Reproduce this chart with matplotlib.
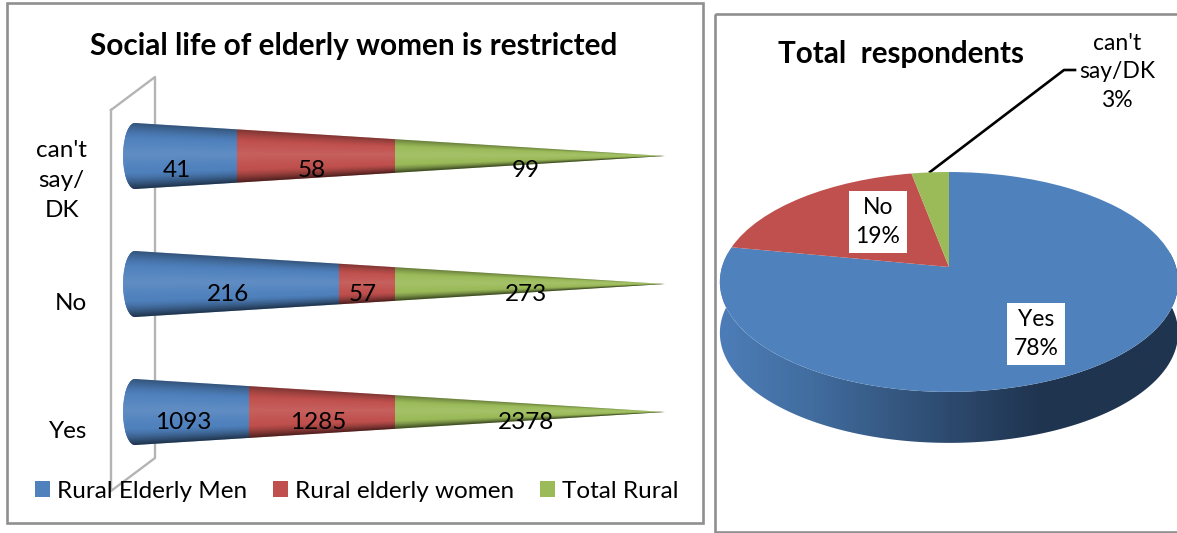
import numpy as np
import matplotlib
matplotlib.use("Agg")
import matplotlib.pyplot as plt
from matplotlib.colors import LinearSegmentedColormap
from matplotlib.patches import Ellipse, Rectangle
from matplotlib.path import Path
from matplotlib.transforms import Transform

plt.rcParams['font.family'] = ['Lato', 'DejaVu Sans']

# datos de las barras
categories = ["Yes", "No", "can't\nsay/\nDK"]
men = [1093, 216, 41]
women = [1285, 57, 58]
total_rural = [2378, 273, 99]
series_names = ["Rural Elderly Men", "Rural elderly women", "Total Rural"]
series_colors = ["#4f81bd", "#c0504d", "#9bbb59"]

# datos del pastel
pie_names = ["Yes", "No", "can't\nsay/DK"]
pie_pct = [78, 19, 3]

W, H = 1177, 533
FRAME = "#8f8f8f"
WALL = "#b4b4b4"
TXT = 17.5


def rect_px(x0, y0, x1, y1):
    return [x0 / W, 1 - y1 / H, (x1 - x0) / W, (y1 - y0) / H]


fig = plt.figure(figsize=(W / 100, H / 100), dpi=100, facecolor="white")

# fondo con los marcos, en pixeles
bg = fig.add_axes([0, 0, 1, 1])
bg.set_xlim(0, W)
bg.set_ylim(H, 0)
bg.axis("off")
bg.add_patch(Rectangle((7, 3), 696, 520, fill=False, ec=FRAME, lw=1.9))
bg.add_patch(Rectangle((715, 14), 480, 518, fill=False, ec=FRAME, lw=1.9))
bg.plot([111, 155, 155, 111, 111], [110, 77, 458, 491, 110], color=WALL, lw=1.7)
bg.text(354, 46, "Social life of elderly women is restricted", fontsize=21.4,
        fontweight="bold", ha="center", va="center")
bg.text(901, 54, "Total  respondents", fontsize=21.3, fontweight="bold",
        ha="center", va="center")

# conos apilados
ax = fig.add_axes(rect_px(108.8, 100, 675.8, 470))
ax.patch.set_visible(False)
ax.set_xlim(-0.03, 1.02)
ax.set_ylim(-0.453, 2.4375)
for s in ax.spines.values():
    s.set_visible(False)

ypos = np.arange(len(categories))
half = 33 / 128
cap_x = 10 / 540
cap_a = 12 / 540

rows = np.array([men, women, total_rural], dtype=float)
shares = rows / rows.sum(axis=0)
lefts = np.zeros(len(categories))
containers = []
clips = []
for yc in ypos:
    t = np.radians(np.linspace(90, 270, 40))
    cx = cap_x + cap_a * np.cos(t)
    cy = yc + half * np.sin(t)
    verts = np.column_stack([np.r_[cx, 1.0], np.r_[cy, yc]])
    clips.append(Path(np.vstack([verts, verts[0]]), closed=True))
    e = Ellipse((cap_x, yc), 2 * cap_a, 2 * half, color=series_colors[0], zorder=1)
    ax.add_patch(e)
    e.set_clip_path(clips[-1], ax.transData)

for i, name in enumerate(series_names):
    bars = ax.barh(ypos, shares[i], left=lefts, height=2 * half,
                   color=series_colors[i], label=name, zorder=2)
    for b, c in zip(bars, clips):
        b.set_clip_path(c, ax.transData)
    for j, val in enumerate(rows[i]):
        xm = lefts[j] + shares[i][j] / 2
        dy = -14 if j == 2 else -10
        ax.annotate(str(int(val)), (xm, ypos[j]), xytext=(-3, dy * 0.72),
                    textcoords="offset points", ha="center", va="center",
                    fontsize=TXT, zorder=5)
    lefts = lefts + shares[i]
    containers.append(bars)

# sombreado del cono
gx = np.linspace(-0.01, 1.0, 500)
gy = np.linspace(-half, half, 90)
xx, yy = np.meshgrid(gx, gy)
hh = half * np.clip((1 - xx) / (1 - cap_x), 1e-3, 1)
v = np.clip(yy / hh, -1, 1)
dark = np.clip((np.abs(v) - 0.5) / 0.5, 0, 1) ** 1.4 * np.where(v > 0, 0.38, 0.6)
light = np.clip(1 - np.abs(v - 0.05) / 0.5, 0, 1) * 0.1
shade = np.zeros(xx.shape + (4,))
shade[..., :3] = (light > dark)[..., None].astype(float)
shade[..., 3] = np.maximum(dark, light)
for yc, c in zip(ypos, clips):
    im = ax.imshow(shade, extent=(gx[0], gx[-1], yc - half, yc + half),
                   origin="lower", aspect="auto", zorder=3, interpolation="bilinear")
    im.set_clip_path(c, ax.transData)
ax.set_xlim(-0.03, 1.02)
ax.set_ylim(-0.453, 2.4375)

ax.set_xticks([])
ax.set_yticks(ypos - 0.14, categories, fontsize=TXT, ha="right", ma="center", linespacing=1.55)
ax.tick_params(axis="y", length=0, pad=(108.8 - 87) * 0.72)

ax.legend(handles=[c[0] for c in containers], labels=series_names, ncol=3,
          loc="center left", bbox_to_anchor=(35 / W, 1 - 491 / H),
          bbox_transform=fig.transFigure, frameon=False, fontsize=TXT,
          borderpad=0, borderaxespad=0, handlelength=0.62, handleheight=0.62,
          handletextpad=0.3, columnspacing=1.05)


# pastel con perspectiva
class Persp(Transform):
    input_dims = 2
    output_dims = 2
    R, B, k = 227.0, 107.9, 0.136

    def transform_non_affine(self, xy):
        xy = np.asarray(xy, dtype=float)
        d = 1 + self.k * xy[:, 1]
        return np.column_stack([self.R * xy[:, 0] / d, -self.B * xy[:, 1] / d])


pie = fig.add_axes(rect_px(715, 60, W, 500))
pie.patch.set_visible(False)
wedges, _ = pie.pie(pie_pct, colors=series_colors, startangle=90, counterclock=False)
persp = Persp()
for w in wedges:
    w.set_transform(persp + pie.transData)
    w.set_zorder(3)

depth = 51
t = np.radians(np.linspace(172, 368, 150))
rim = persp.transform(np.column_stack([np.cos(t), np.sin(t)]))
wall_path = Path(np.vstack([rim + [0, depth], rim[::-1], rim[0] + [0, depth]]), closed=True)
wall_cmap = LinearSegmentedColormap.from_list(
    "wall", [(0, "#4d7db8"), (0.2, "#416d9f"), (0.5, "#2d4a6e"), (0.7, "#1f344f"), (1, "#1f344f")])
im = pie.imshow(np.linspace(0, 1, 256)[None, :], cmap=wall_cmap,
                extent=(-230, 230, 190, -20), aspect="auto", zorder=2)
im.set_clip_path(wall_path, pie.transData)

pie.set_aspect("auto")
pie.set_xlim(715 - 949, W - 949)
pie.set_ylim(500 - 267, 60 - 267)

box = dict(fc="white", ec="none", pad=5)
pie.text(1036 - 949, 334 - 267, f"{pie_names[0]}\n{pie_pct[0]}%", fontsize=TXT - 1,
         ha="center", va="center", bbox=box, zorder=6, linespacing=1.42)
pie.text(878 - 949, 222 - 267, f"{pie_names[1]}\n{pie_pct[1]}%", fontsize=TXT - 1,
         ha="center", va="center", bbox=box, zorder=6, linespacing=1.42)
bg.text(1117, 72, f"{pie_names[2]}\n{pie_pct[2]}%", fontsize=TXT - 1,
        ha="center", va="center", linespacing=1.42)
bg.plot([930, 1064, 1075], [172, 70, 70], color="black", lw=1.9, zorder=5)

fig.savefig("out.png", dpi=100)
